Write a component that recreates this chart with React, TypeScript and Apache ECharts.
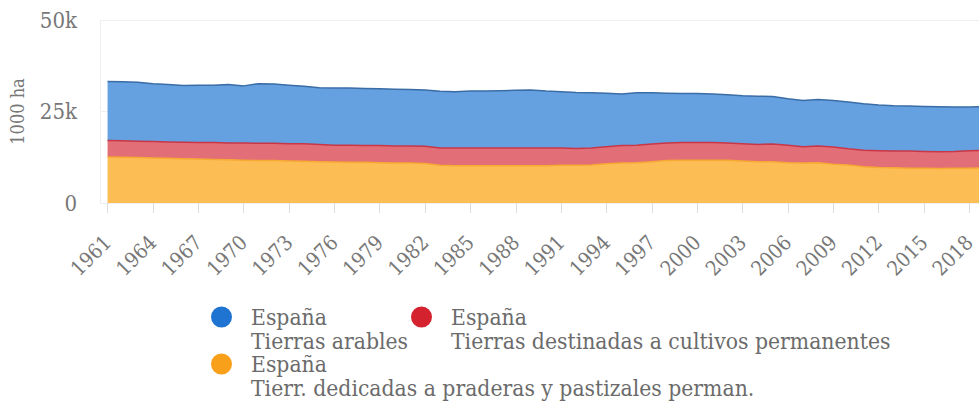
import React, { useEffect, useRef } from "react";
import * as echarts from "echarts";

const years = [
  "1961","1962","1963","1964","1965","1966","1967","1968","1969","1970",
  "1971","1972","1973","1974","1975","1976","1977","1978","1979","1980",
  "1981","1982","1983","1984","1985","1986","1987","1988","1989","1990",
  "1991","1992","1993","1994","1995","1996","1997","1998","1999","2000",
  "2001","2002","2003","2004","2005","2006","2007","2008","2009","2010",
  "2011","2012","2013","2014","2015","2016","2017","2018","2019",
];

// 1000 ha
const tierrasArables = [
  16100,16100,16100,15800,15700,15500,15700,15700,16000,15600,
  16300,16200,16000,15700,15500,15600,15600,15600,15500,15500,
  15400,15400,15500,15400,15600,15600,15700,15800,15900,15600,
  15400,15300,15100,14600,14100,14300,14000,13600,13400,13400,
  13300,13200,13100,13200,13000,12700,12600,12700,12700,12800,
  12700,12500,12400,12300,12300,12300,12100,11900,11900,
];
const cultivosPermanentes = [
  4500,4500,4500,4500,4500,4500,4500,4600,4600,4700,
  4700,4700,4700,4800,4700,4600,4700,4600,4700,4700,
  4700,4700,4700,4800,4800,4800,4800,4800,4800,4800,
  4700,4600,4600,4700,4800,4800,4800,4800,4800,4800,
  4800,4700,4700,4700,4800,4800,4500,4600,4700,4400,
  4500,4600,4600,4700,4600,4600,4600,4800,4800,
];
const praderasPastizales = [
  12600,12500,12400,12300,12200,12100,12000,11900,11800,11700,
  11600,11600,11500,11400,11300,11200,11100,11100,11000,10900,
  10900,10800,10300,10200,10200,10200,10200,10200,10200,10200,
  10300,10300,10400,10700,10900,11000,11300,11600,11700,11700,
  11700,11700,11500,11300,11300,11000,10900,11000,10600,10400,
  9900,9700,9600,9500,9500,9400,9500,9500,9600,
];

const yTicks = [0, 25000, 50000];
const yTickLabels = ["0", "25k", "50k"];

const seriesNames = [
  "España\nTierras arables",
  "España\nTierras destinadas a cultivos permanentes",
  "España\nTierr. dedicadas a praderas y pastizales perman.",
];

const FONT = "'DejaVu Serif Condensed', 'DejaVu Serif', serif";
const LINE_H = 23.5;
// circle in the upper-left part of a 35 x 47 box (tiny zero-area marks keep the box size)
const DOT_ICON =
  "path://M0 0L0.01 0Z M0 11.75A10.5 10.5 0 1 0 21 11.75A10.5 10.5 0 1 0 0 11.75Z M34.99 47L35 47Z";

export default function App() {
  const ref = useRef<HTMLDivElement>(null);
  useEffect(() => {
    if (!ref.current) return;
    const chart = echarts.init(ref.current, null, { renderer: "svg" });
    const mkLegend = (name: string, left: number, top: number) => ({
      show: true,
      data: [name],
      left,
      top,
      padding: 0,
      icon: DOT_ICON,
      itemWidth: 35,
      itemHeight: LINE_H * 2,
      selectedMode: false,
      textStyle: {
        color: "#6b6b6b",
        fontFamily: FONT,
        fontSize: 22.7,
        lineHeight: LINE_H,
      },
    });
    chart.setOption({
      animation: false,
      grid: { left: 100, top: 20, width: 892, height: 183, containLabel: false },
      xAxis: {
        type: "category",
        data: years,
        boundaryGap: true,
        axisLine: { show: false },
        axisTick: {
          show: true,
          alignWithLabel: true,
          interval: 2,
          length: 10,
          lineStyle: { color: "#dddddd" },
        },
        axisLabel: {
          interval: 2,
          rotate: 45,
          color: "#777777",
          fontFamily: FONT,
          fontSize: 20.5,
          margin: 36,
        },
        splitLine: { show: false },
      },
      yAxis: {
        type: "value",
        min: 0,
        max: 50000,
        interval: 25000,
        name: "1000 ha",
        nameLocation: "middle",
        nameGap: 74,
        nameTextStyle: { color: "#777777", fontFamily: FONT, fontSize: 18 },
        axisLine: { show: true, lineStyle: { color: "#eeeeee" } },
        axisTick: { show: false },
        axisLabel: {
          color: "#777777",
          fontFamily: FONT,
          fontSize: 22,
          margin: 23,
          formatter: (v: number) => yTickLabels[yTicks.indexOf(v)] ?? String(v),
        },
        splitLine: { show: true, lineStyle: { color: "#f0f0f0" } },
      },
      legend: [
        mkLegend(seriesNames[0], 211, 305.25),
        mkLegend(seriesNames[1], 411, 305.25),
        mkLegend(seriesNames[2], 211, 352.25),
      ],
      series: [
        {
          name: seriesNames[2],
          type: "line",
          stack: "total",
          data: praderasPastizales,
          showSymbol: false,
          symbol: "none",
          itemStyle: { color: "#f9a01b" },
          lineStyle: { color: "#f6a933", width: 1.5 },
          areaStyle: { color: "#fdbd55", opacity: 1 },
        },
        {
          name: seriesNames[1],
          type: "line",
          stack: "total",
          data: cultivosPermanentes,
          showSymbol: false,
          symbol: "none",
          itemStyle: { color: "#d4232f" },
          lineStyle: { color: "#c93645", width: 1.5 },
          areaStyle: { color: "#e26e78", opacity: 1 },
        },
        {
          name: seriesNames[0],
          type: "line",
          stack: "total",
          data: tierrasArables,
          showSymbol: false,
          symbol: "none",
          itemStyle: { color: "#1f74d2" },
          lineStyle: { color: "#3a6ca6", width: 1.5 },
          areaStyle: { color: "#65a1e0", opacity: 1 },
        },
      ],
    });
    return () => chart.dispose();
  }, []);
  return (
    <div
      style={{
        position: "fixed",
        left: 0,
        top: 0,
        width: 979,
        height: 403,
        overflow: "hidden",
        background: "#ffffff",
      }}
    >
      <div ref={ref} style={{ width: 1010, height: 403 }} />
    </div>
  );
}
